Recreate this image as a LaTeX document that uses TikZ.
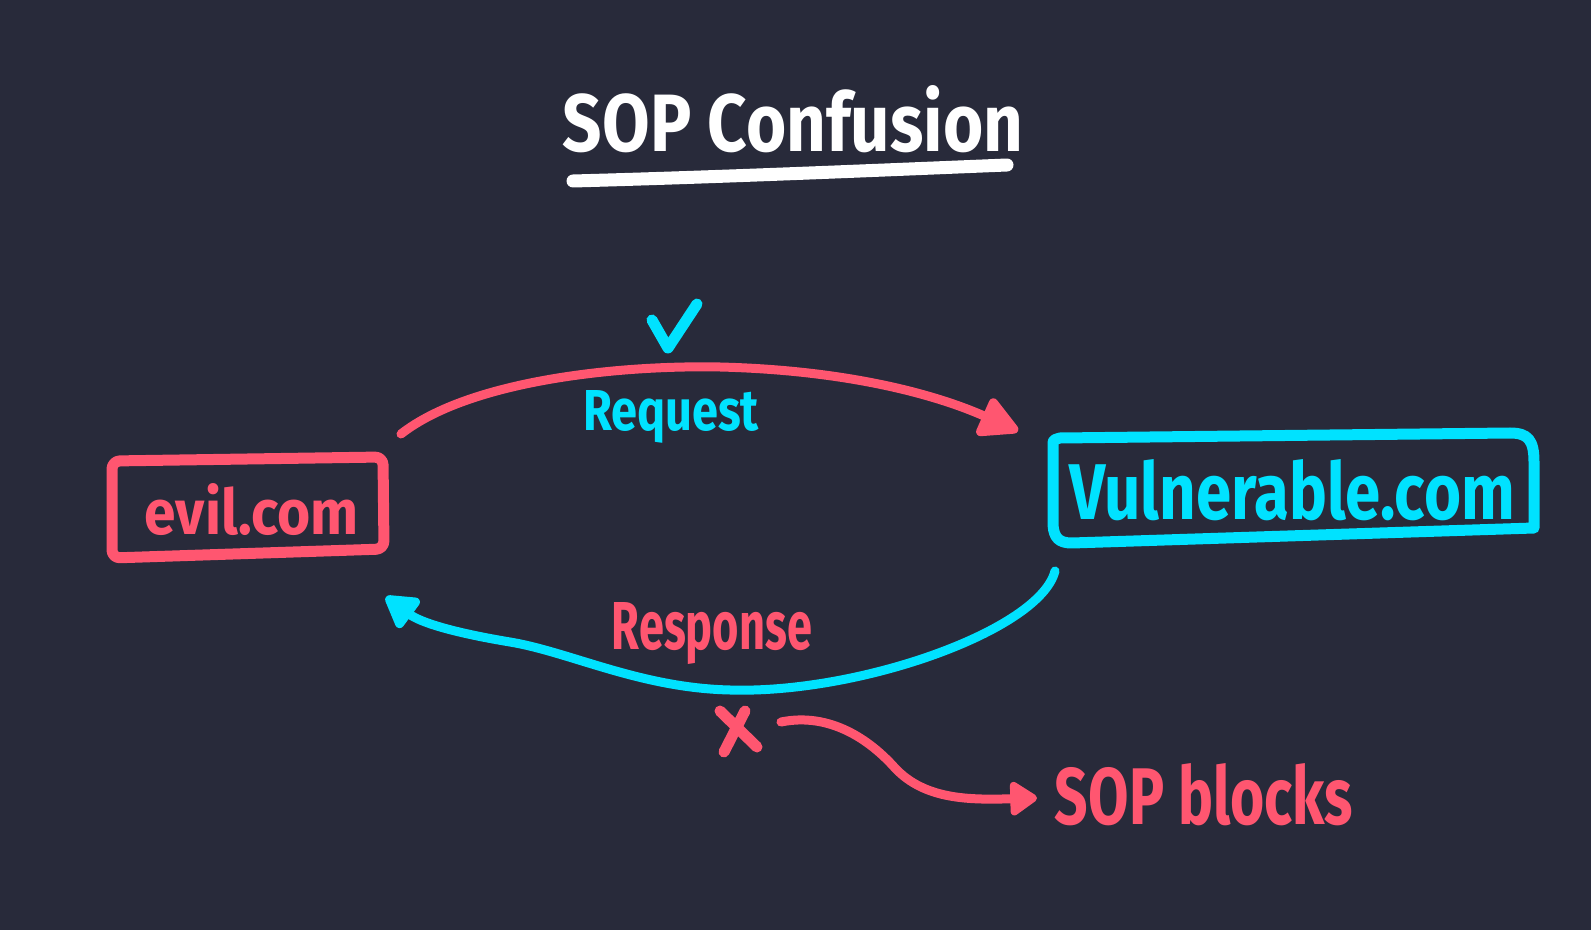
\documentclass[tikz,border=0pt]{standalone}
\usepackage{fontspec}
\usepackage{graphicx}
\setmainfont{Fira Sans}
\usetikzlibrary{arrows.meta}
\definecolor{bgc}{RGB}{40,42,58}
\definecolor{redc}{RGB}{255,86,112}
\definecolor{cyanc}{RGB}{0,226,255}
\tikzset{
  boxline/.style={line width=5.5pt, line join=round},
  arrowline/.style={line width=4.5pt, line cap=round},
  mark stroke/.style={line width=5.5pt, line cap=round, line join=round},
  txt/.style={anchor=base, inner sep=0pt, outer sep=0pt}
}
\begin{document}
\begin{tikzpicture}[x=0.5pt, y=-0.5pt]
\fill[bgc] (0,0) rectangle (1591,930);
\useasboundingbox (0,0) rectangle (1591,930);

% title
\node[txt, text=white] (title) at (793,152) {\resizebox{230pt}{33pt}{\bfseries SOP Confusion}};
\coordinate (ulA) at (573,181);
\coordinate (ulB) at (1007,165);
\draw[white, line width=6.5pt, line cap=round] (ulA) .. controls (720,177) and (860,171) .. (ulB);

% evil box
\draw[redc, boxline, rounded corners=4pt] (112,461) -- (383,457) -- (384,549) -- (112,558) -- cycle;
\node[txt, text=redc] (evil) at (252,535) {\resizebox{107pt}{25.5pt}{\bfseries evil.com}};
\coordinate (evilR) at (401,434);
\coordinate (evilTip) at (386,597);

% vulnerable box
\draw[cyanc, boxline] (1060,438) -- (1510,433) .. controls (1528,433) and (1534,440) .. (1534,462)
  -- (1534,528) -- (1072,543) .. controls (1059,543) and (1054,538) .. (1053,525)
  -- (1053,445) .. controls (1053,440) .. (1060,438) -- cycle;
\node[txt, text=cyanc] (vuln) at (1292,520) {\resizebox{223pt}{30pt}{\bfseries Vulnerable.com}};
\coordinate (vulnTip) at (1018,431);
\coordinate (vulnB) at (1055,571);

% request arrow
\draw[redc, arrowline, -{Triangle[length=22pt,width=22pt,round]}]
  (evilR) .. controls (470,380) and (620,365) .. (720,367)
  .. controls (840,370) and (930,392) .. (vulnTip);
\node[txt, text=cyanc] (req) at (671,431) {\resizebox{88pt}{20pt}{\bfseries Request}};

% check mark
\draw[cyanc, mark stroke] (652,320) -- (668,348) -- (697,304);

% response arrow
\draw[cyanc, arrowline, -{Triangle[length=18pt,width=20pt,round]}]
  (vulnB) .. controls (1040,630) and (860,694) .. (730,690)
  .. controls (640,688) and (570,652) .. (510,642)
  .. controls (450,632) and (420,622) .. (evilTip);
\node[txt, text=redc] (resp) at (712,649) {\resizebox{100pt}{23.5pt}{\bfseries Response}};

% X mark
\draw[redc, mark stroke] (720,711) -- (757,747);
\draw[redc, mark stroke] (745,711) -- (724,752);
\coordinate (xR) at (781,722);

% SOP blocks
\node[txt, text=redc] (sop) at (1204,824) {\resizebox{149pt}{30.5pt}{\bfseries SOP blocks}};
\coordinate (sopL) at (1037,798);
\draw[redc, arrowline, -{Triangle[length=15pt,width=19pt,round]}]
  (xR) .. controls (830,712) and (870,740) .. (895,768)
  .. controls (925,800) and (970,800) .. (sopL);
\end{tikzpicture}
\end{document}
